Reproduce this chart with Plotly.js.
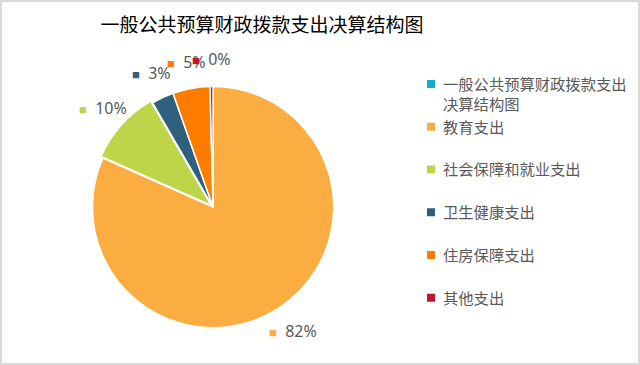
<!DOCTYPE html>
<html>
<head>
<meta charset="utf-8">
<script src="https://cdn.plot.ly/plotly-3.0.1.min.js"></script>
<style>
html,body{margin:0;padding:0;background:#fff;}
#chart{width:636px;height:361px;border:2px solid #d9d9d9;}
</style>
</head>
<body>
<div id="chart"></div>
<script>
var categories = ['一般公共预算财政拨款支出<br>决算结构图', '教育支出<br> ', '社会保障和就业支出<br> ', '卫生健康支出<br> ', '住房保障支出<br> ', '其他支出<br> '];
var values = [0, 82, 10, 3, 5, 0.4];
var colors = ['#12adc9', '#fbad42', '#bed449', '#2f607d', '#ff7c00', '#c2172f'];
var pulls = [0, 0, 0.02, 0, 0, 0];

var W = 636, H = 361;
var pieDomain = {x: [0.1384, 0.5252], y: [0.091, 0.773]};

var trace = {
  type: 'pie',
  labels: categories,
  values: values,
  sort: false,
  direction: 'clockwise',
  rotation: 0,
  pull: pulls,
  marker: {colors: colors, line: {color: '#ffffff', width: 1.5}},
  textinfo: 'none',
  automargin: false,
  showlegend: true,
  hoverinfo: 'label+percent',
  domain: pieDomain
};

// percentage labels placed around the pie from the slice angles (data-driven)
var total = values.reduce(function (a, b) { return a + b; }, 0);
var cx = (pieDomain.x[0] + pieDomain.x[1]) / 2;
var cy = (pieDomain.y[0] + pieDomain.y[1]) / 2;
var Rpx = Math.min((pieDomain.x[1] - pieDomain.x[0]) * W, (pieDomain.y[1] - pieDomain.y[0]) * H) / 2;
var labelR = Rpx * 1.2;
var annotations = [];
var cum = 0;
values.forEach(function (v, i) {
  var mid = (cum + v / 2) / total * 2 * Math.PI;
  cum += v;
  if (v <= 0) return;
  annotations.push({
    xref: 'paper', yref: 'paper',
    x: cx + labelR * Math.sin(mid) / W,
    y: cy + labelR * Math.cos(mid) / H,
    xanchor: 'center', yanchor: 'middle',
    showarrow: false,
    text: '<span style="color:' + colors[i] + ';font-size:13px">■</span>  ' + Math.round(v / total * 100) + '%',
    font: {family: 'Noto Sans, sans-serif', size: 16, color: '#595959'}
  });
});

var layout = {
  width: W,
  height: H,
  margin: {l: 0, r: 0, t: 0, b: 0},
  paper_bgcolor: '#ffffff',
  title: {
    text: '一般公共预算财政拨款支出决算结构图',
    font: {family: 'Noto Sans CJK SC, sans-serif', size: 19, color: '#000000'},
    x: 0.409, xanchor: 'center',
    y: 0.935, yanchor: 'middle'
  },
  legend: {
    x: 0.6305, xanchor: 'left',
    y: 0.8186, yanchor: 'top',
    valign: 'top',
    font: {family: 'Noto Sans CJK SC, sans-serif', size: 15.3, color: '#595959'},
    tracegroupgap: 0,
    itemwidth: 30,
    traceorder: 'normal'
  },
  annotations: annotations,
  showlegend: true
};

Plotly.newPlot('chart', [trace], layout, {displayModeBar: false, staticPlot: true}).then(function (gd) {
  var paths = gd.querySelectorAll('path.legendpie');
  paths.forEach(function (p) { p.setAttribute('d', 'M12,4V-4H4V4Z'); p.style.strokeWidth = '0'; });
});
</script>
</body>
</html>
